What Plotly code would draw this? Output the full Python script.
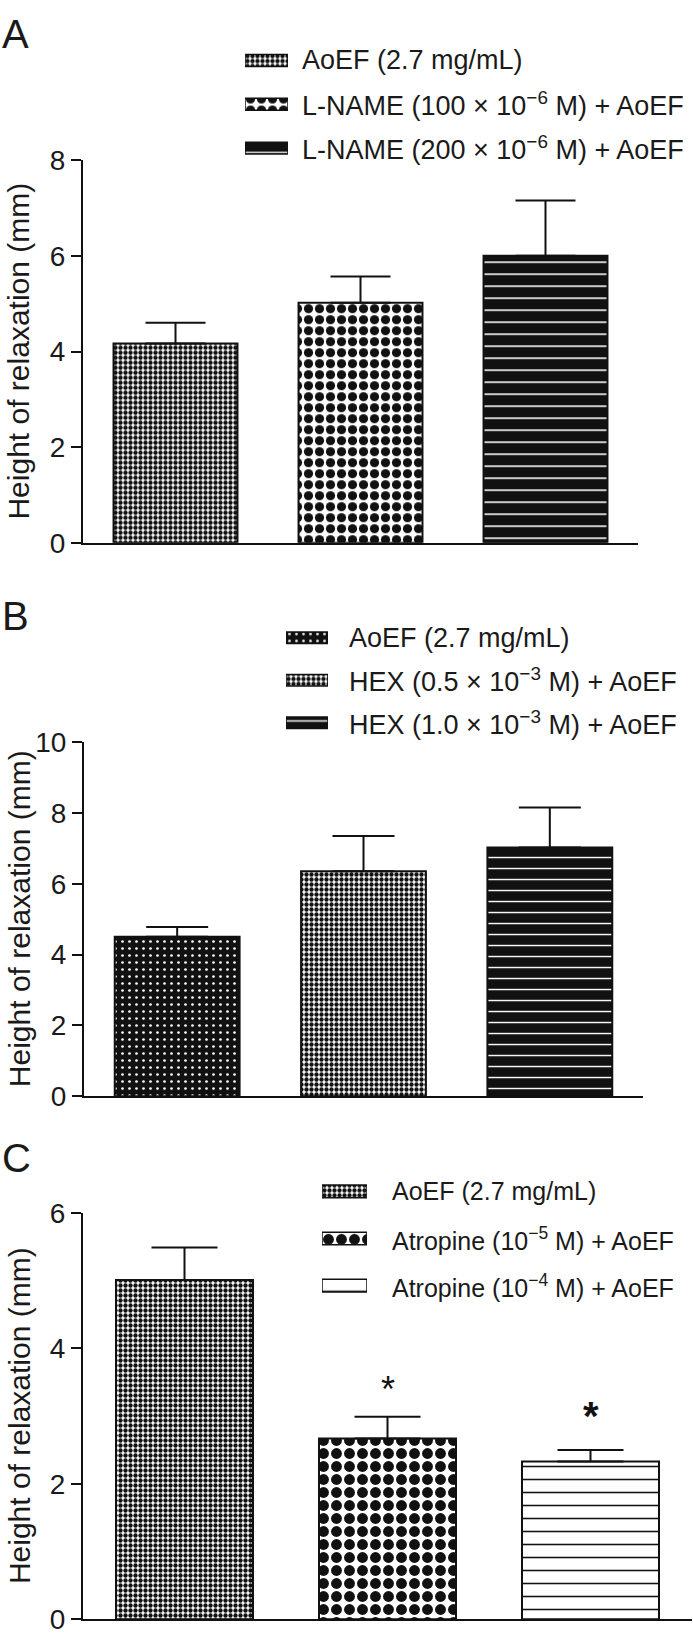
import plotly.graph_objects as go

# ---------------- data ----------------
groups_A = ["AoEF (2.7 mg/mL)",
            "L-NAME (100 × 10<sup>−6</sup> M) + AoEF",
            "L-NAME (200 × 10<sup>−6</sup> M) + AoEF"]
means_A = [4.17, 5.02, 6.00]
sem_A = [0.43, 0.55, 1.16]

groups_B = ["AoEF (2.7 mg/mL)",
            "HEX (0.5 × 10<sup>−3</sup> M) + AoEF",
            "HEX (1.0 × 10<sup>−3</sup> M) + AoEF"]
means_B = [4.50, 6.35, 7.02]
sem_B = [0.28, 1.00, 1.13]

groups_C = ["AoEF (2.7 mg/mL)",
            "Atropine (10<sup>−5</sup> M) + AoEF",
            "Atropine (10<sup>−4</sup> M) + AoEF"]
means_C = [5.01, 2.67, 2.33]
sem_C = [0.48, 0.32, 0.17]
sig_C = ["", "*", "*"]
sig_y_C = [None, 3.52, 3.15]

panel_letters = ["A", "B", "C"]
y_max = [8, 10, 6]
y_title = "Height of relaxation (mm)"

# ---------------- styles ----------------
W, H = 693, 1646
FONT = "Liberation Sans, Arial, Helvetica, sans-serif"
TXT = "#1a1a1a"
BLK = "#111111"
WHT = "#ffffff"

styles = {
    "A": dict(shape=[".", ".", "-"], fg=[BLK, BLK, WHT], bg=[WHT, WHT, BLK],
              size=[5, 11, 12], sol=[0.6, 0.55, 0.13]),
    "B": dict(shape=[".", ".", "-"], fg=[WHT, BLK, WHT], bg=[BLK, WHT, BLK],
              size=[7, 5, 11], sol=[0.12, 0.6, 0.13]),
    "C": dict(shape=[".", ".", "-"], fg=[BLK, BLK, BLK], bg=[WHT, WHT, WHT],
              size=[5, 13, 13], sol=[0.6, 0.55, 0.12]),
}

# layout geometry in page pixels (from top-left of the window)
geom = {
    "A": dict(x0=83, x1=638, ytop=148, ybot=538, bw=0.67, cap=30,
              letter_y=19, leg_x0=245, leg_x1=288, leg_top=24, leg_bot=158,
              leg_text=300, leg_font=27),
    "B": dict(x0=84, x1=643, ytop=741, ybot=1102, bw=0.67, cap=31,
              letter_y=613, leg_x0=286, leg_x1=328, leg_top=613, leg_bot=743,
              leg_text=347, leg_font=27),
    "C": dict(x0=83, x1=692, ytop=1221, ybot=1635, bw=0.675, cap=33,
              letter_y=1165, leg_x0=322, leg_x1=367, leg_top=1175, leg_bot=1319,
              leg_text=390, leg_font=25),
}

panels = [("A", groups_A, means_A, sem_A),
          ("B", groups_B, means_B, sem_B),
          ("C", groups_C, means_C, sem_C)]


def px_x(v):
    return v / W


def px_y(v):
    return 1 - v / H


fig = go.Figure()
layout = dict(width=W, height=H, margin=dict(l=0, r=0, t=0, b=0),
              paper_bgcolor="white", plot_bgcolor="rgba(0,0,0,0)",
              showlegend=False, font=dict(family=FONT, color=TXT),
              bargap=0)
annotations = []

for i, (key, groups, means, sems) in enumerate(panels):
    g = geom[key]
    st = styles[key]
    n = i + 1
    xa = "x" if n == 1 else f"x{n}"
    ya = "y" if n == 1 else f"y{n}"
    xl = f"x{n + 3}"
    yl = f"y{n + 3}"
    pattern = dict(shape=st["shape"], fgcolor=st["fg"], bgcolor=st["bg"],
                   size=st["size"], solidity=st["sol"], fgopacity=1)

    # main bars
    fig.add_trace(go.Bar(
        x=groups, y=means, xaxis=xa, yaxis=ya, width=g["bw"],
        marker=dict(line=dict(color=BLK, width=2), pattern=pattern),
        error_y=dict(type="data", symmetric=False, array=sems, arrayminus=[0] * len(sems),
                     color=BLK, thickness=2, width=g["cap"]),
        hoverinfo="skip"))

    layout["xaxis" if n == 1 else f"xaxis{n}"] = dict(
        domain=[px_x(g["x0"]), px_x(g["x1"])], anchor=ya, type="category",
        range=[-0.5, 2.5], showticklabels=False, ticks="", showgrid=False,
        showline=True, linecolor=BLK, linewidth=2, zeroline=False, fixedrange=True)
    layout["yaxis" if n == 1 else f"yaxis{n}"] = dict(
        domain=[px_y(g["ybot"]), px_y(g["ytop"])], anchor=xa,
        range=[0, y_max[i]], dtick=2, ticks="outside", ticklen=10, tickwidth=2,
        tickcolor=BLK, showline=True, linecolor=BLK, linewidth=2, showgrid=False,
        zeroline=False, tickfont=dict(size=28, family=FONT, color=TXT),
        fixedrange=True)

    # legend patches
    fig.add_trace(go.Bar(
        x=[1, 1, 1], y=groups, orientation="h", xaxis=xl, yaxis=yl, width=0.27,
        marker=dict(line=dict(color=BLK, width=1.5), pattern=pattern),
        hoverinfo="skip"))
    layout[f"xaxis{n + 3}"] = dict(domain=[px_x(g["leg_x0"]), px_x(g["leg_x1"])],
                                   anchor=yl, range=[0, 1], visible=False, fixedrange=True)
    layout[f"yaxis{n + 3}"] = dict(domain=[px_y(g["leg_bot"]), px_y(g["leg_top"])],
                                   anchor=xl, type="category", range=[2.5, -0.5],
                                   visible=False, fixedrange=True)
    for j, label in enumerate(groups):
        annotations.append(dict(
            text=label, xref="paper", x=px_x(g["leg_text"]), xanchor="left",
            yref=yl, y=j, yanchor="middle", showarrow=False,
            font=dict(size=g["leg_font"], family=FONT, color=TXT)))

    # panel letter
    annotations.append(dict(text=panel_letters[i], xref="paper", yref="paper",
                            x=px_x(0), y=px_y(g["letter_y"]),
                            xanchor="left", yanchor="middle",
                            showarrow=False, font=dict(size=40, family=FONT, color=TXT)))
    # y-axis title
    annotations.append(dict(text=y_title, xref="paper", yref="paper",
                            x=px_x(19), y=px_y((g["ytop"] + g["ybot"]) / 2),
                            xanchor="center", yanchor="middle", textangle=-90,
                            showarrow=False, font=dict(size=30, family=FONT, color=TXT)))

# significance marks in panel C
for j, (mark, yv) in enumerate(zip(sig_C, sig_y_C)):
    if mark:
        big = j == 2
        annotations.append(dict(text=("<b>" + mark + "</b>") if big else mark,
                                xref="x3", yref="y3", x=groups_C[j], y=yv,
                                xanchor="center", yanchor="middle", showarrow=False,
                                yshift=-10 if big else -9,
                                font=dict(size=40 if big else 36, family=FONT, color=BLK)))

layout["annotations"] = annotations
fig.update_layout(**layout)
# remove the browser's default 8px body margin so the figure fills the window exactly
fig.write_html("out.html",
               config={"displayModeBar": False, "staticPlot": True},
               post_script="document.body.style.margin='0';document.body.style.overflow='hidden';")
